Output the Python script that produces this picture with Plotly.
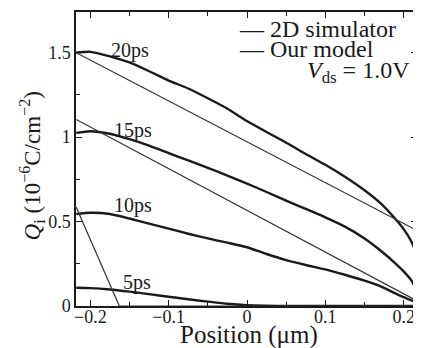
import plotly.graph_objects as go

# ---- data ----
x_sim = [-0.218, -0.2, -0.175, -0.15, -0.125, -0.1, -0.075, -0.05, -0.025, 0.0,
         0.025, 0.05, 0.075, 0.1, 0.125, 0.15, 0.17, 0.19, 0.2, 0.21, 0.217]
sim_20ps = [1.500, 1.505, 1.478, 1.442, 1.390, 1.335, 1.288, 1.230, 1.168, 1.095,
            1.030, 0.967, 0.900, 0.836, 0.765, 0.685, 0.610, 0.512, 0.455, 0.380, 0.300]
sim_15ps = [1.025, 1.035, 1.020, 0.988, 0.950, 0.905, 0.862, 0.818, 0.772, 0.725,
            0.675, 0.624, 0.575, 0.525, 0.470, 0.400, 0.330, 0.250, 0.205, 0.150, 0.090]
sim_10ps = [0.545, 0.552, 0.545, 0.518, 0.488, 0.458, 0.428, 0.400, 0.375, 0.348,
            0.308, 0.272, 0.243, 0.217, 0.185, 0.150, 0.118, 0.073, 0.052, 0.033, 0.018]
sim_5ps = [0.108, 0.106, 0.098, 0.085, 0.070, 0.055, 0.040, 0.026, 0.013, 0.005,
           0.002, 0.0, 0.0, 0.0, 0.0, 0.0, 0.0, 0.0, 0.0, 0.0, 0.0]

x_model_20 = [-0.218, 0.217]
model_20ps = [1.500, 0.447]
x_model_15 = [-0.218, 0.217]
model_15ps = [1.104, 0.030]
x_model_10 = [-0.218, -0.163, 0.217]
model_10ps = [0.585, 0.0, 0.0]

curve_labels = ["20ps", "15ps", "10ps", "5ps"]
label_x = [-0.150, -0.146, -0.146, -0.141]
label_y = [1.512, 1.041, 0.594, 0.141]

x_ticks = [-0.2, -0.1, 0, 0.1, 0.2]
x_ticktext = ["−0.2", "−0.1", "0", "0.1", "0.2"]
y_ticks = [0, 0.5, 1, 1.5]
y_ticktext = ["0", "0.5", "1", "1.5"]

FONT = "Liberation Serif"
INK = "#1a1a1a"

fig = go.Figure()
for ys in [sim_20ps, sim_15ps, sim_10ps, sim_5ps]:
    fig.add_trace(go.Scatter(x=x_sim, y=ys, mode="lines", showlegend=False,
                             line=dict(color=INK, width=2.4, shape="spline", smoothing=0.6)))
for xs, ys in [(x_model_20, model_20ps), (x_model_15, model_15ps), (x_model_10, model_10ps)]:
    fig.add_trace(go.Scatter(x=xs, y=ys, mode="lines", showlegend=False,
                             line=dict(color="#333333", width=1.2)))

for t, lx, ly in zip(curve_labels, label_x, label_y):
    fig.add_annotation(x=lx, y=ly, text=t, showarrow=False, xref="x", yref="y",
                       font=dict(family=FONT, size=20, color=INK))

# legend text (em-dash style as in reference)
fig.add_annotation(x=0.472, y=0.942, xref="paper", yref="paper", xanchor="left", yanchor="middle",
                   text="— 2D simulator", showarrow=False, font=dict(family=FONT, size=24, color=INK))
fig.add_annotation(x=0.472, y=0.875, xref="paper", yref="paper", xanchor="left", yanchor="middle",
                   text="— Our model", showarrow=False, font=dict(family=FONT, size=24, color=INK))
fig.add_annotation(x=0.985, y=0.795, xref="paper", yref="paper", xanchor="right", yanchor="middle",
                   text="<i>V</i><sub>ds</sub> = 1.0V", showarrow=False, font=dict(family=FONT, size=24, color=INK))

# axis titles
fig.add_annotation(x=0.507, y=-0.098, xref="paper", yref="paper", xanchor="center", yanchor="middle",
                   text="Position (μm)", showarrow=False, font=dict(family=FONT, size=25, color=INK))
fig.add_annotation(x=-0.131, y=0.476, xref="paper", yref="paper", xanchor="center", yanchor="middle",
                   textangle=-90,
                   text="<i>Q</i><sub>i</sub> (10<sup>−6</sup>C/cm<sup>−2</sup>)",
                   showarrow=False, font=dict(family=FONT, size=23, color=INK))

axis_common = dict(showgrid=False, zeroline=False, showline=True, linecolor=INK, linewidth=1.5,
                   mirror="allticks", ticks="inside", ticklen=6, tickwidth=1.3, tickcolor=INK,
                   tickfont=dict(family=FONT, size=18, color=INK))
fig.update_xaxes(range=[-0.2183, 0.2170], tickvals=x_ticks, ticktext=x_ticktext,
                 ticklabelstandoff=-6,
                 minor=dict(dtick=0.05, tick0=0, ticks="inside", ticklen=4, tickwidth=1.2, tickcolor=INK),
                 **axis_common)
fig.update_yaxes(range=[0, 1.741], tickvals=y_ticks, ticktext=y_ticktext,
                 minor=dict(dtick=0.25, tick0=0, ticks="inside", ticklen=4, tickwidth=1.2, tickcolor=INK),
                 **axis_common)

# page body has an 8px margin, so the figure is 8px smaller than the window
fig.update_layout(width=413, height=340, margin=dict(l=68, r=2, t=2, b=42),
                  plot_bgcolor="white", paper_bgcolor="white", showlegend=False)

fig.write_html("out.html")
